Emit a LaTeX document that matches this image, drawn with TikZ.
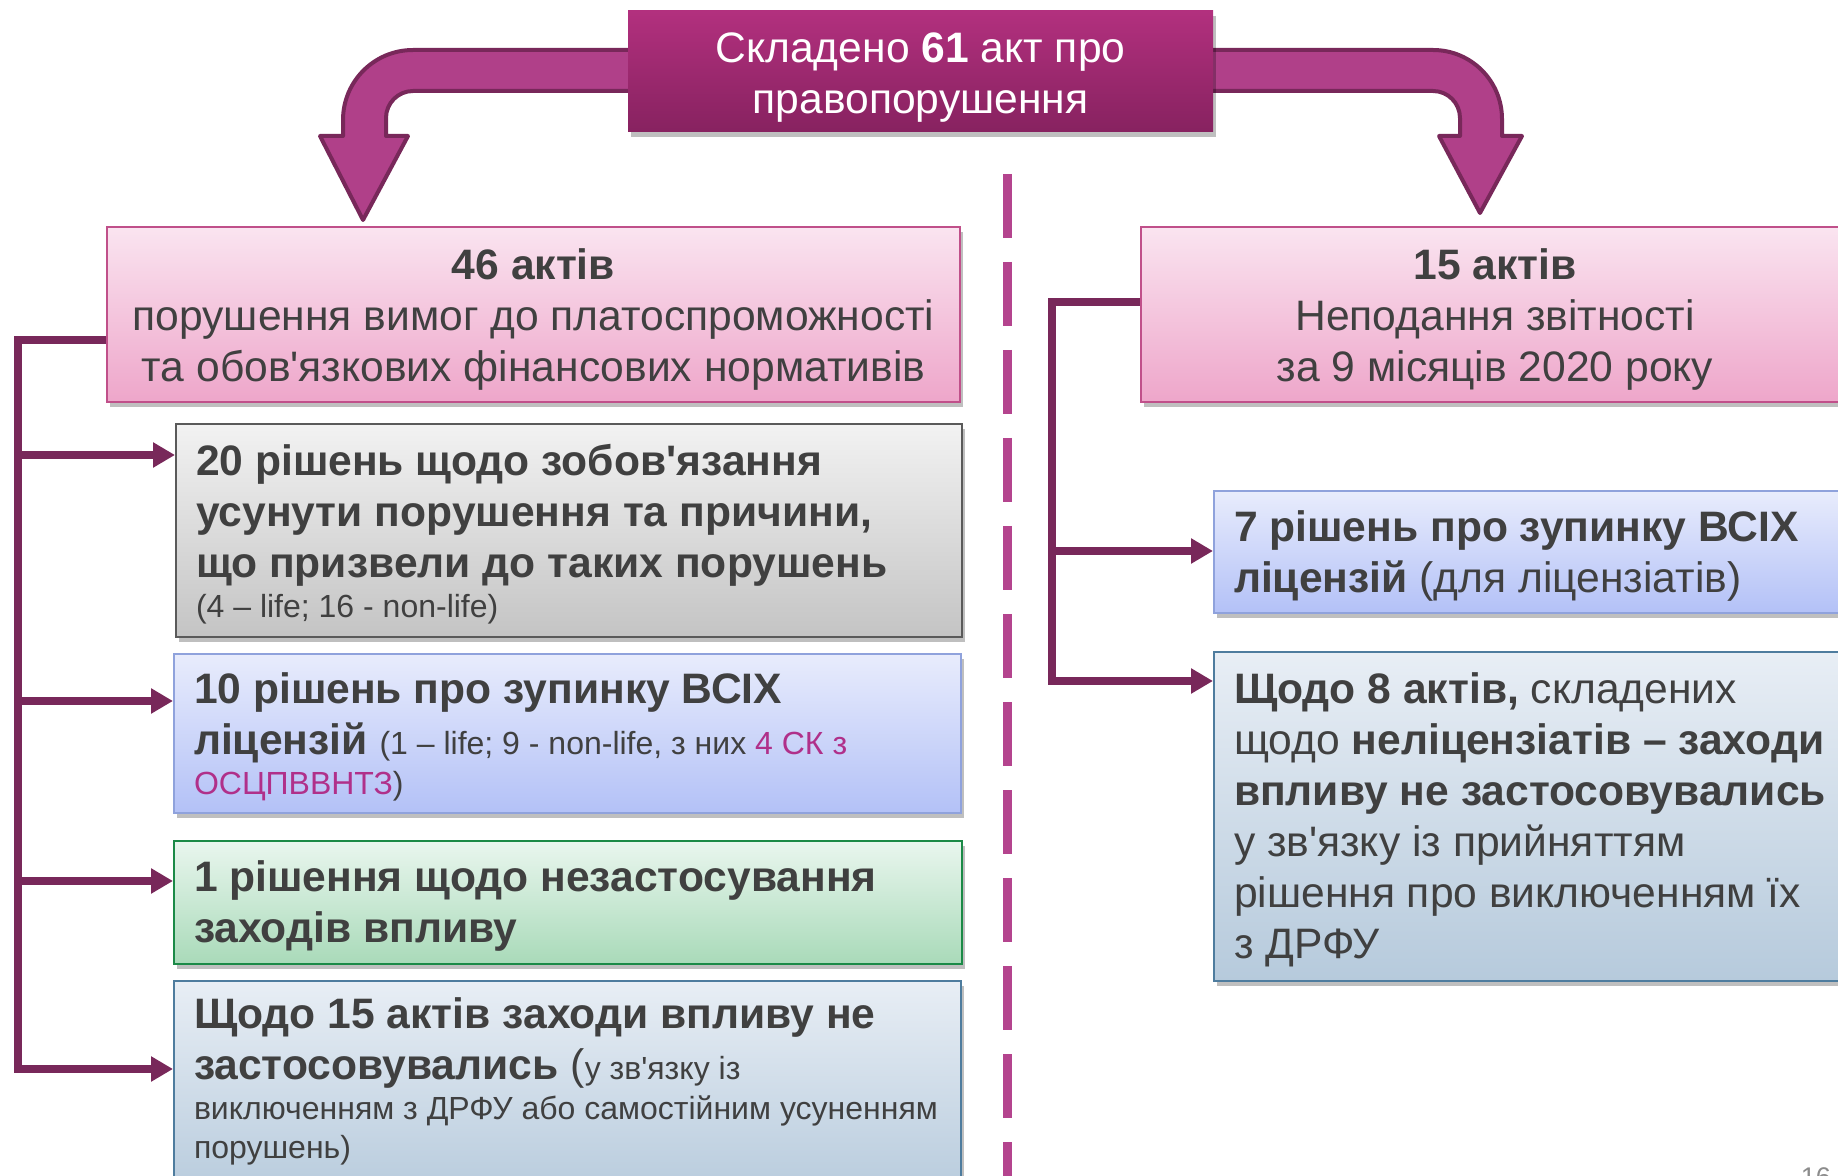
\documentclass[tikz,border=0pt]{standalone}
\usepackage{fontspec}
\setmainfont{Liberation Sans}
\usetikzlibrary{arrows.meta,shadows}

\definecolor{actpurple}{RGB}{120,40,90}
\definecolor{arrowfill}{RGB}{176,64,137}
\definecolor{toptop}{RGB}{178,48,126}
\definecolor{topbot}{RGB}{135,34,96}
\definecolor{dashpink}{RGB}{180,68,142}
\definecolor{txtgray}{RGB}{64,64,64}
\definecolor{pinktop}{RGB}{250,228,240}
\definecolor{pinkbot}{RGB}{238,166,202}
\definecolor{pinkline}{RGB}{192,80,138}
\definecolor{graytop}{RGB}{242,242,242}
\definecolor{graybot}{RGB}{196,196,196}
\definecolor{grayline}{RGB}{90,90,90}
\definecolor{bluetop}{RGB}{232,236,252}
\definecolor{bluebot}{RGB}{179,193,247}
\definecolor{blueline}{RGB}{143,162,220}
\definecolor{greentop}{RGB}{233,246,238}
\definecolor{greenbot}{RGB}{169,218,185}
\definecolor{greenline}{RGB}{27,138,71}
\definecolor{steeltop}{RGB}{232,238,245}
\definecolor{steelbot}{RGB}{182,202,220}
\definecolor{steelline}{RGB}{78,124,158}
\definecolor{skmagenta}{RGB}{176,48,138}

\newcommand{\bigtxt}{\fontsize{21.3}{25.5}\selectfont}
\newcommand{\smalltxt}{\fontsize{16}{19}\selectfont}
\newcommand{\topstrut}{\rule{0pt}{20.5pt}}
\newcommand{\leafstrut}{\rule{0pt}{19pt}}

\tikzset{every picture/.style={line width=0.75pt},
  softshadow/.style={drop shadow={shadow xshift=1.5pt,shadow yshift=-2.5pt,opacity=0.25,fill=black}},
  bentarrow/.style={draw=actpurple,fill=arrowfill,line width=2pt,line join=round},
  divider/.style={draw=dashpink,line width=4.5pt,dash pattern=on 32pt off 12pt},
  topbox/.style={top color=toptop,bottom color=topbot,text=white,font=\bigtxt,align=flush center,
    inner xsep=5pt,inner ysep=3pt,text width=282.5pt,minimum height=60.5pt,softshadow,
    execute at begin node=\topstrut},
  pinkbox/.style={top color=pinktop,bottom color=pinkbot,draw=pinkline,line width=1pt,
    inner xsep=5pt,inner ysep=3pt,text=txtgray,font=\bigtxt,align=flush center,softshadow,
    execute at begin node=\topstrut},
  leaf/.style={anchor=north west,line width=1pt,inner xsep=10pt,inner ysep=3pt,align=flush left,
    text=txtgray,font=\bigtxt,softshadow,execute at begin node=\leafstrut},
  graybox/.style={leaf,top color=graytop,bottom color=graybot,draw=grayline},
  bluebox/.style={leaf,top color=bluetop,bottom color=bluebot,draw=blueline},
  greenbox/.style={leaf,top color=greentop,bottom color=greenbot,draw=greenline},
  steelbox/.style={leaf,top color=steeltop,bottom color=steelbot,draw=steelline},
  bus/.style={draw=actpurple,line width=4pt},
  tip/.style={-{Triangle[length=11pt,width=12pt]}},
  pagenum/.style={anchor=north west,inner sep=0pt,text=black!45,font=\fontsize{13.5}{16}\selectfont}
}

\begin{document}
\begin{tikzpicture}[x=0.5pt,y=0.5pt,yscale=-1,xscale=1]
\useasboundingbox (0,0) rectangle (1838,1176);
\clip (0,0) rectangle (1838,1176);

%Shape: Bent Arrow left
\draw[bentarrow] (640,50) -- (413,50) .. controls (374.3,50) and (343,81.3) .. (343,120) -- (343,136) -- (320,136) -- (363,220) -- (408,136) -- (386,136) -- (386,118) .. controls (386,103.1) and (398.1,91) .. (413,91) -- (640,91) -- cycle ;
%Shape: Bent Arrow right
\draw[bentarrow] (1200,50) -- (1433,50) .. controls (1471.1,50) and (1502,80.9) .. (1502,119) -- (1502,136) -- (1522,136) -- (1480,213) -- (1439,136) -- (1460,136) -- (1460,118) .. controls (1460,103.1) and (1447.9,91) .. (1433,91) -- (1200,91) -- cycle ;

%Straight Lines divider
\draw[divider] (1007.5,174) -- (1007.5,1176) ;

%Shape: Rectangle top
\node[topbox] (acts) at (920.5,71.5) {Складено \textbf{61} акт про\\правопорушення};

%Shape: Rectangle left branch
\node[pinkbox,text width=416.5pt,minimum height=87.5pt] (pinkL) at (533.5,314.5) {\textbf{46 актів}\\порушення вимог до платоспроможності\\та обов\textquotesingle язкових фінансових нормативів};
\node[graybox,text width=373pt,minimum height=106.5pt] (grayb) at (175,423) {\textbf{20 рішень щодо зобов\textquotesingle язання}\\\textbf{усунути порушення та причини,}\\\textbf{що призвели до таких порушень}\\[-5.5pt]{\smalltxt (4 – life; 16 - non-life)}};
\node[bluebox,text width=373.5pt,minimum height=79.5pt] (blueb) at (173,653) {\textbf{10 рішень про зупинку ВСІХ}\\\textbf{ліцензій} {\smalltxt (1 – life; 9 - non-life, з них \textcolor{skmagenta}{4 СК з}}\\[-5.5pt]{\smalltxt\textcolor{skmagenta}{ОСЦПВВНТЗ})}};
\node[greenbox,text width=374pt,minimum height=61.5pt] (greenb) at (173,840) {\textbf{1 рішення щодо незастосування}\\\textbf{заходів впливу}};
\node[steelbox,text width=373.5pt,inner ysep=4.5pt] (lastb) at (173,980) {\textbf{Щодо 15 актів заходи впливу не}\\\textbf{застосовувались} ({\smalltxt у зв\textquotesingle язку із}\\[-5.5pt]{\smalltxt виключенням з ДРФУ або самостійним усуненням}\\[-6pt]{\smalltxt порушень)\rule[-17pt]{0pt}{17pt}}};

%Shape: Rectangle right branch
\node[pinkbox,text width=344pt,minimum height=87.5pt] (pinkR) at (1495,314.5) {\textbf{15 актів}\\Неподання звітності\\за 9 місяців 2020 року};
\node[bluebox,text width=420pt,minimum height=61pt] (blueR) at (1213,490) {\textbf{7 рішень про зупинку ВСІХ}\\\textbf{ліцензій} (для ліцензіатів)};
\node[steelbox,text width=420pt,minimum height=164.5pt] (lastR) at (1213,651) {\textbf{Щодо 8 актів,} складених\\щодо \textbf{неліцензіатів – заходи}\\\textbf{впливу не застосовувались}\\у зв\textquotesingle язку із прийняттям\\рішення про виключенням їх\\з ДРФУ};

%Straight Lines left bus
\coordinate (busL) at (18,340);
\draw[bus,tip] (pinkL.west |- busL) -- (busL) |- (lastb.west |- 0,1069) ;
\draw[bus,tip] (busL |- 0,455) -- (grayb.west |- 0,455) ;
\draw[bus,tip] (busL |- 0,701) -- (blueb.west |- 0,701) ;
\draw[bus,tip] (busL |- 0,881) -- (greenb.west |- 0,881) ;
%Straight Lines right bus
\coordinate (busR) at (1051.5,302);
\draw[bus,tip] (pinkR.west |- busR) -- (busR) |- (lastR.west |- 0,681) ;
\draw[bus,tip] (busR |- 0,551) -- (blueR.west |- 0,551) ;

\node[pagenum] (pnum) at (1800,1167) {16};

\end{tikzpicture}
\end{document}
